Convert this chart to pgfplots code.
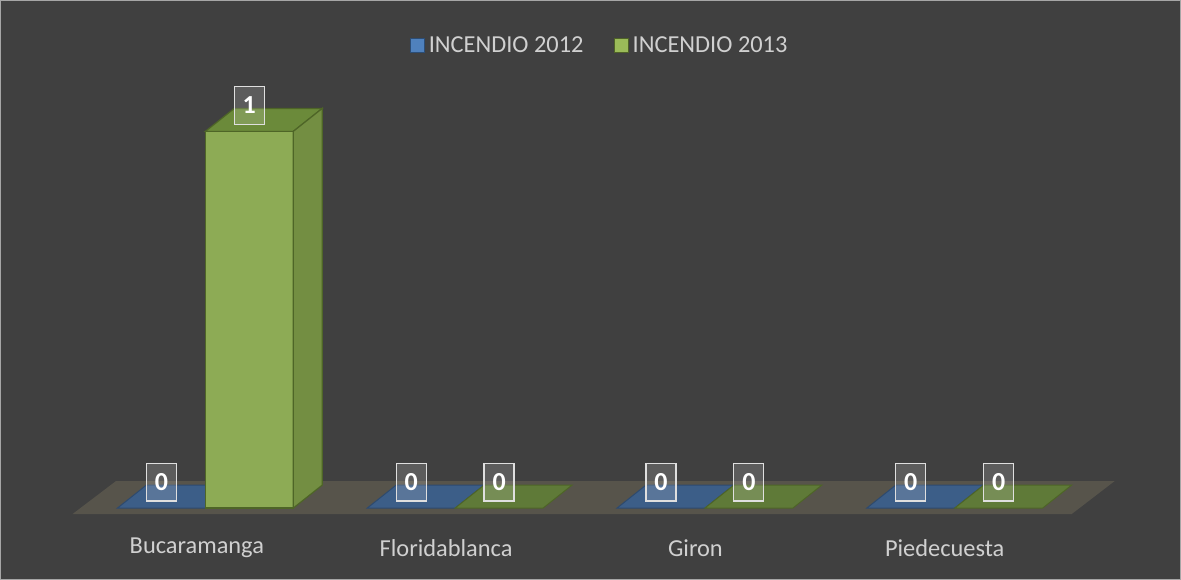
\documentclass[border=0pt]{standalone}
\usepackage{pgfplots}
\pgfplotsset{compat=1.18}
\usepackage{fontspec}
\setmainfont{Carlito}
\definecolor{bgc}{HTML}{404040}
\definecolor{floorc}{HTML}{57544B}
\definecolor{blueflat}{HTML}{3C5E88}
\definecolor{blueedge}{HTML}{2E4A6E}
\definecolor{greenflat}{HTML}{5F7A38}
\definecolor{greenfront}{HTML}{8DAB55}
\definecolor{greentop}{HTML}{6B8A3A}
\definecolor{greenside}{HTML}{738E42}
\definecolor{greenedge}{HTML}{4E6527}
\definecolor{txtc}{HTML}{D0D0D0}
\definecolor{leg12}{HTML}{4F81BD}
\definecolor{leg12d}{HTML}{2C4D75}
\definecolor{leg13}{HTML}{9BBB59}
\definecolor{leg13d}{HTML}{4F6228}
\begin{document}
\begin{tikzpicture}
\begin{axis}[
  scale only axis, width=590.5pt, height=289.5pt,
  xmin=-0.82, xmax=3.904, ymin=-0.1883, ymax=1.3475,
  axis lines=none, clip=false,
  axis background/.style={fill=bgc, draw=gray!70, line width=0.5pt},
  legend style={at={(0.5085,0.922)}, anchor=center, draw=none, fill=none,
    text=txtc, font=\fontsize{12.2}{14}\selectfont, legend columns=2,
    /tikz/every even column/.append style={column sep=13pt},
    inner sep=1pt},
  legend cell align=left,
]
\addlegendimage{legend image code/.code={\draw[fill=leg12,draw=leg12d,line width=0.6pt] (0pt,-3.5pt) rectangle (7pt,3.5pt);}}
\addlegendentry{INCENDIO 2012}
\addlegendimage{legend image code/.code={\draw[fill=leg13,draw=leg13d,line width=0.6pt] (0pt,-3.5pt) rectangle (7pt,3.5pt);}}
\addlegendentry{INCENDIO 2013}

% floor
\addplot[forget plot, fill=floorc, draw=none] coordinates {(-0.532,-0.016) (3.468,-0.016) (3.64,0.0716) (-0.358,0.0716)} -- cycle;

% Bucaramanga: 2012 = 0, 2013 = 1
\addplot[forget plot, fill=blueflat, draw=blueedge, line width=0.5pt] coordinates {(-0.352,0) (0,0) (0.116,0.061) (-0.236,0.061)} -- cycle;
\addplot[forget plot, fill=greenfront, draw=greenedge, line width=0.6pt] coordinates {(0,0) (0.352,0) (0.352,1) (0,1)} -- cycle;
\addplot[forget plot, fill=greentop, draw=greenedge, line width=0.6pt] coordinates {(0,1) (0.352,1) (0.468,1.061) (0.116,1.061)} -- cycle;
\addplot[forget plot, fill=greenside, draw=greenedge, line width=0.6pt] coordinates {(0.352,0) (0.468,0.061) (0.468,1.061) (0.352,1)} -- cycle;

% Floridablanca: 0, 0
\addplot[forget plot, fill=blueflat, draw=blueedge, line width=0.5pt] coordinates {(0.648,0) (1,0) (1.116,0.061) (0.764,0.061)} -- cycle;
\addplot[forget plot, fill=greenflat, draw=greenedge, line width=0.5pt] coordinates {(1,0) (1.352,0) (1.468,0.061) (1.116,0.061)} -- cycle;
% Giron: 0, 0
\addplot[forget plot, fill=blueflat, draw=blueedge, line width=0.5pt] coordinates {(1.648,0) (2,0) (2.116,0.061) (1.764,0.061)} -- cycle;
\addplot[forget plot, fill=greenflat, draw=greenedge, line width=0.5pt] coordinates {(2,0) (2.352,0) (2.468,0.061) (2.116,0.061)} -- cycle;
% Piedecuesta: 0, 0
\addplot[forget plot, fill=blueflat, draw=blueedge, line width=0.5pt] coordinates {(2.648,0) (3,0) (3.116,0.061) (2.764,0.061)} -- cycle;
\addplot[forget plot, fill=greenflat, draw=greenedge, line width=0.5pt] coordinates {(3,0) (3.352,0) (3.468,0.061) (3.116,0.061)} -- cycle;

% data labels
\tikzset{dl/.style={draw=white!75!gray, line width=0.6pt, fill=white, fill opacity=0.15, text opacity=1, text=white,
  minimum width=15pt, minimum height=19pt, inner sep=0pt, font=\fontsize{13}{14}\selectfont\bfseries}}
\node[dl] at (axis cs:-0.176,0.069) {0};
\node[dl] at (axis cs:0.176,1.069) {1};
\node[dl] at (axis cs:0.824,0.069) {0};
\node[dl] at (axis cs:1.176,0.069) {0};
\node[dl] at (axis cs:1.824,0.069) {0};
\node[dl] at (axis cs:2.176,0.069) {0};
\node[dl] at (axis cs:2.824,0.069) {0};
\node[dl] at (axis cs:3.176,0.069) {0};

% category labels
\tikzset{cl/.style={text=txtc, font=\fontsize{12.2}{14}\selectfont, inner sep=0pt}}
\node[cl] at (axis cs:-0.034,-0.106) {Bucaramanga};
\node[cl] at (axis cs:0.964,-0.106) {Floridablanca};
\node[cl] at (axis cs:1.962,-0.106) {Giron};
\node[cl] at (axis cs:2.960,-0.106) {Piedecuesta};
\end{axis}
\end{tikzpicture}
\end{document}
